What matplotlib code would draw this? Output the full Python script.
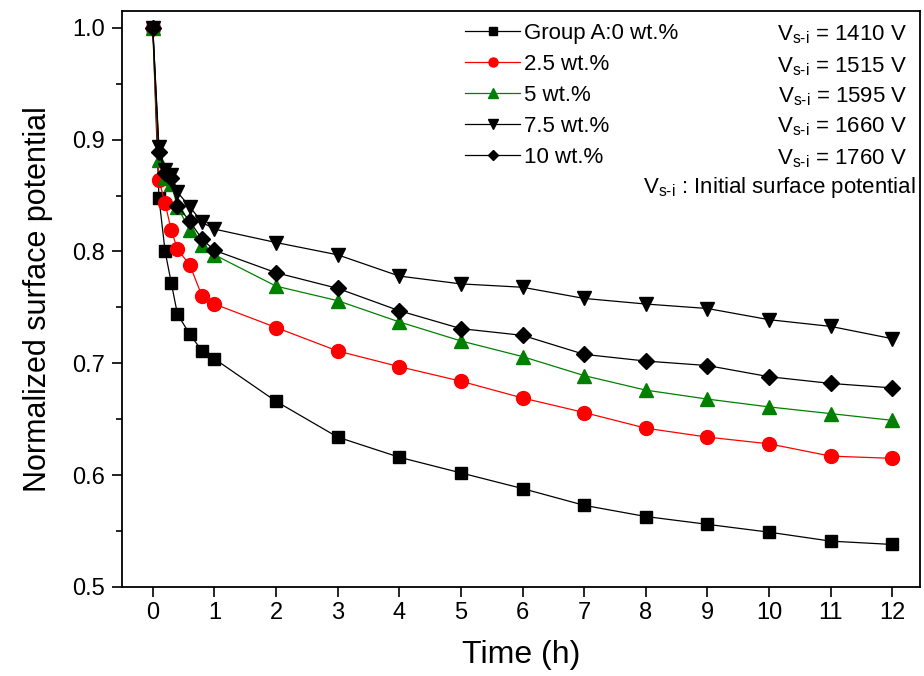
import matplotlib
matplotlib.use('Agg')
from matplotlib import pyplot as plt

plt.rcParams['font.family'] = ['Liberation Sans', 'DejaVu Sans']
plt.rcParams['mathtext.fontset'] = 'custom'
plt.rcParams['mathtext.rm'] = 'Liberation Sans'

# time points (h)
time_h = [0, 0.1, 0.2, 0.3, 0.4, 0.6, 0.8, 1, 2, 3, 4, 5, 6, 7, 8, 9, 10, 11, 12]

wt0 = [1.0, 0.848, 0.800, 0.772, 0.744, 0.726, 0.711, 0.704,
       0.666, 0.634, 0.616, 0.602, 0.588, 0.573, 0.563, 0.556, 0.549, 0.541, 0.538]
wt2_5 = [1.0, 0.864, 0.843, 0.819, 0.802, 0.788, 0.760, 0.753,
         0.732, 0.711, 0.697, 0.684, 0.669, 0.656, 0.642, 0.634, 0.628, 0.617, 0.615]
wt5 = [1.0, 0.882, 0.866, 0.860, 0.840, 0.819, 0.806, 0.797,
       0.769, 0.756, 0.737, 0.720, 0.706, 0.689, 0.676, 0.668, 0.661, 0.655, 0.649]
wt7_5 = [1.0, 0.893, 0.873, 0.868, 0.853, 0.840, 0.826, 0.820,
         0.808, 0.797, 0.778, 0.771, 0.768, 0.758, 0.753, 0.749, 0.739, 0.733, 0.722]
wt10 = [1.0, 0.889, 0.870, 0.866, 0.841, 0.827, 0.811, 0.801,
        0.781, 0.767, 0.747, 0.731, 0.725, 0.708, 0.702, 0.698, 0.688, 0.682, 0.678]

labels = ['Group A:0 wt.%', '2.5 wt.%', '5 wt.%', '7.5 wt.%', '10 wt.%']
vsi = [1410, 1515, 1595, 1660, 1760]

series = [wt0, wt2_5, wt5, wt7_5, wt10]
markers = ['s', 'o', '^', 'v', 'D']
colors = ['black', 'red', 'green', 'black', 'black']
msizes = [9, 10, 10, 10, 8.5]

fig = plt.figure(figsize=(9.24, 6.76), dpi=100)
ax = fig.add_axes([0.132, 0.1317, 0.8637, 0.852])

for y, m, c, ms, lab in zip(series, markers, colors, msizes, labels):
    ax.plot(time_h, y, color=c, lw=0.9, marker=m, ms=ms,
            markerfacecolor=c, markeredgecolor=c, label=lab)

ax.set_xlim(-0.5, 12.45)
ax.set_ylim(0.5, 1.015)
ax.set_xticks(range(0, 13))
ax.set_yticks([0.5, 0.6, 0.7, 0.8, 0.9, 1.0])
ax.set_yticks([0.55, 0.65, 0.75, 0.85, 0.95], minor=True)
ax.tick_params(axis='both', direction='out', labelsize=17, width=1.2, length=7)
ax.tick_params(axis='y', pad=5)
ax.tick_params(axis='y', which='minor', direction='out', length=4, width=1.2)
for s in ax.spines.values():
    s.set_linewidth(1.3)

ax.set_xlabel('Time (h)', fontsize=23, labelpad=12)
ax.set_ylabel('Normalized surface potential', fontsize=22, labelpad=14)

sub = r'V$_{\mathregular{s' + '\u2010' + r'i}}$'
leg = ax.legend(loc='upper left', bbox_to_anchor=(0.41, 1.006), frameon=False,
                fontsize=16, markerscale=0.65, handlelength=2.5,
                handletextpad=0.15, labelspacing=0.45, borderaxespad=0.3)

row_y = [0.959, 0.903, 0.851, 0.799, 0.744]
for v, yy in zip(vsi, row_y):
    ax.text(0.984, yy, sub + ' = %d V' % v, transform=ax.transAxes,
            ha='right', va='center', fontsize=16)
ax.text(0.995, 0.694, sub + ' : Initial surface potential',
        transform=ax.transAxes, ha='right', va='center', fontsize=16)

fig.savefig('out.png', dpi=100)
